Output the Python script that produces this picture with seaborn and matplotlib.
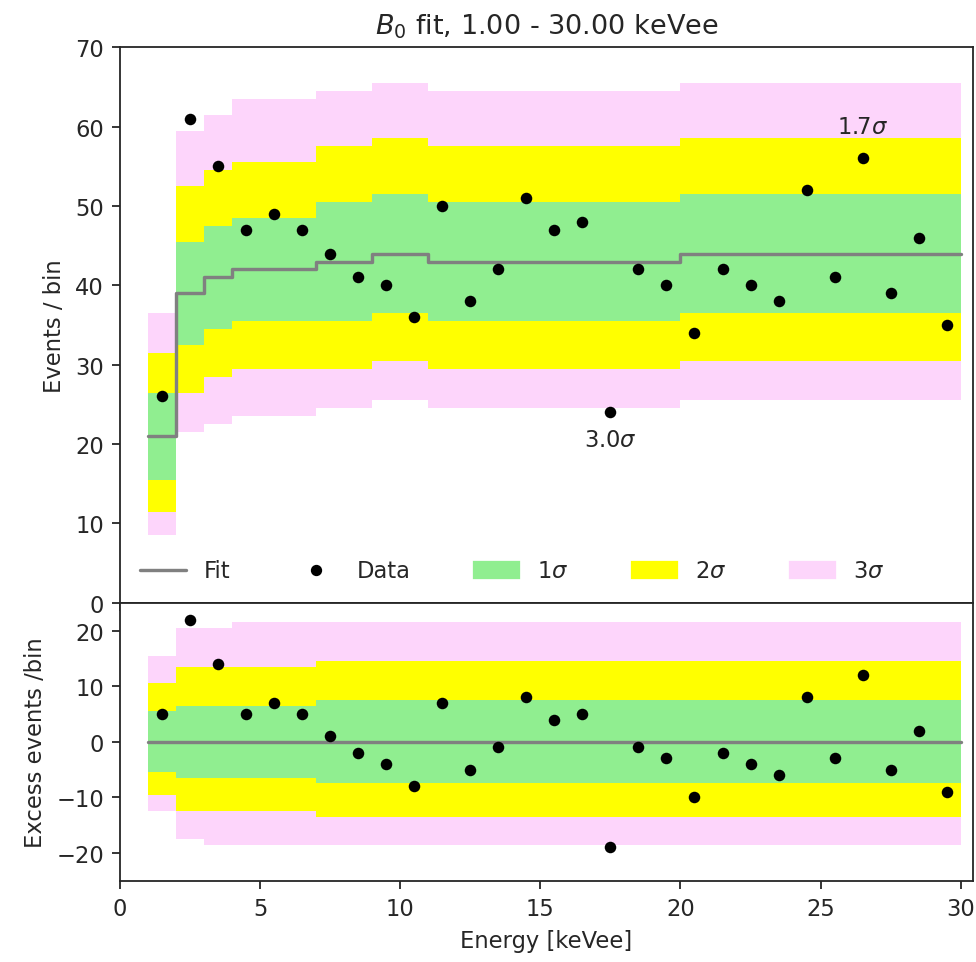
"""B0 fit plot: counts per bin with Poisson bands, plus excess panel."""

import matplotlib.pyplot as plt
import numpy as np
import seaborn as sns
from matplotlib.lines import Line2D
from matplotlib.patches import Patch

# 拟合区间边界 (keVee) 和每个区间的拟合值
region_edges = [1, 2, 3, 4, 7, 9, 11, 20, 30]
fit_vals = [21, 39, 41, 42, 43, 44, 43, 44]

# 1/2/3 sigma 带 (每个区间的上下限)
band1_lo = [15.5, 32.5, 34.5, 35.5, 35.5, 36.5, 35.5, 36.5]
band1_hi = [26.5, 45.5, 47.5, 48.5, 50.5, 51.5, 50.5, 51.5]
band2_lo = [11.5, 26.5, 28.5, 29.5, 29.5, 30.5, 29.5, 30.5]
band2_hi = [31.5, 52.5, 54.5, 55.5, 57.5, 58.5, 57.5, 58.5]
band3_lo = [8.5, 21.5, 22.5, 23.5, 24.5, 25.5, 24.5, 25.5]
band3_hi = [36.5, 59.5, 61.5, 63.5, 64.5, 65.5, 64.5, 65.5]

# 每 1 keVee 一个 bin 的数据
bin_centers = [1.5, 2.5, 3.5, 4.5, 5.5, 6.5, 7.5, 8.5, 9.5, 10.5,
               11.5, 12.5, 13.5, 14.5, 15.5, 16.5, 17.5, 18.5, 19.5, 20.5,
               21.5, 22.5, 23.5, 24.5, 25.5, 26.5, 27.5, 28.5, 29.5]
counts = [26, 61, 55, 47, 49, 47, 44, 41, 40, 36,
          50, 38, 42, 51, 47, 48, 24, 42, 40, 34,
          42, 40, 38, 52, 41, 56, 39, 46, 35]

# 标注的显著性
annot_x = [17.5, 26.5]
annot_text = ["3.0$\\sigma$", "1.7$\\sigma$"]
annot_offset = [-12, 14]

GREEN = "lightgreen"
YELLOW = "yellow"
PINK = "#fdd5fb"

sns.set_style("ticks")
plt.rcParams["font.family"] = ["DejaVu Sans"]
plt.rcParams["font.size"] = 10


def ext(vals):
    """为 steps-post 补上最后一个值."""
    return list(vals) + [vals[-1]]


edges = np.array(region_edges, dtype=float)
fit = np.array(fit_vals, dtype=float)
centers = np.array(bin_centers)
data = np.array(counts, dtype=float)
fit_per_bin = fit[np.searchsorted(edges, centers) - 1]
excess = data - fit_per_bin

fig, (ax1, ax2) = plt.subplots(
    2, 1, sharex=True, figsize=(6.0, 5.915), dpi=162.8,
    gridspec_kw={"height_ratios": [2, 1], "hspace": 0},
)
fig.subplots_adjust(left=0.1228, right=0.9959, top=0.950, bottom=0.0844)

bands = [
    (band3_lo, band3_hi, PINK),
    (band2_lo, band2_hi, YELLOW),
    (band1_lo, band1_hi, GREEN),
]

for ax, shift in ((ax1, np.zeros_like(fit)), (ax2, fit)):
    for lo, hi, col in bands:
        lo_a = np.array(lo) - shift
        hi_a = np.array(hi) - shift
        ax.fill_between(edges, ext(lo_a), ext(hi_a), step="post",
                        color=col, linewidth=0, zorder=1)
    sns.lineplot(x=edges, y=ext(fit - shift), drawstyle="steps-post",
                 color="gray", linewidth=1.5, ax=ax, zorder=3)

sns.scatterplot(x=centers, y=data, color="black", s=26, linewidth=0,
                ax=ax1, zorder=4)
sns.scatterplot(x=centers, y=excess, color="black", s=26, linewidth=0,
                ax=ax2, zorder=4)

for x, txt, off in zip(annot_x, annot_text, annot_offset):
    i = bin_centers.index(x)
    ax1.annotate(txt, xy=(x, counts[i]), xytext=(0, off),
                 textcoords="offset points", ha="center", va="center",
                 fontsize=10, color=".15")

handles = [
    Line2D([], [], color="gray", linewidth=1.5),
    Line2D([], [], color="black", marker="o", linestyle="none", markersize=4),
    Patch(color=GREEN),
    Patch(color=YELLOW),
    Patch(color=PINK),
]
labels = ["Fit", "Data", "1$\\sigma$", "2$\\sigma$", "3$\\sigma$"]
ax1.legend(handles, labels, loc="lower left", ncol=5, frameon=False,
           fontsize=10, columnspacing=2.8)

ax1.set_ylim(0, 70)
ax1.set_yticks(np.arange(0, 71, 10))
ax2.set_ylim(-25, 25)
ax2.set_yticks([-20, -10, 0, 10, 20])
ax2.set_xlim(0, 30.43)
ax2.set_xticks([0, 5, 10, 15, 20, 25, 30])

ax1.set_title("$B_0$ fit, 1.00 - 30.00 keVee", fontsize=12)
ax1.set_ylabel("Events / bin")
ax2.set_ylabel("Excess events /bin")
ax2.set_xlabel("Energy [keVee]")

fig.savefig("out.png", dpi=162.8)
